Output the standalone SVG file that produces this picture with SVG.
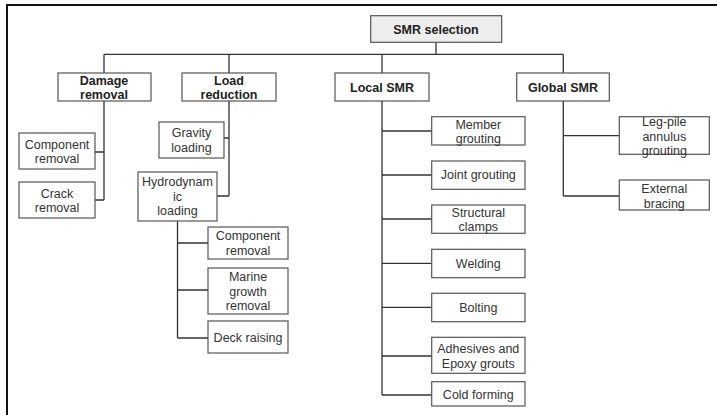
<svg xmlns="http://www.w3.org/2000/svg" width="717" height="415" viewBox="0 0 717 415">
<style>
.b{fill:#fff;stroke:#555;stroke-width:1.2}
.r{fill:#eeeeee;stroke:#555;stroke-width:1.2}
text{font-family:"Liberation Sans",Arial,sans-serif;font-size:12.5px;fill:#333;text-anchor:middle}
.h{font-weight:bold;fill:#222}
.c{fill:none;stroke:#333;stroke-width:1.3}
</style>
<rect x="0" y="0" width="717" height="415" fill="#fff"/>
<path d="M7,415V5H717" fill="none" stroke="#111" stroke-width="2"/>
<g id="connectors" class="c">
<path d="M436,42.3V54.3M104,54.3H563.3M104,54.3V73M229,54.3V73M382,54.3V73M563.3,54.3V73"/>
<path d="M104,101V200M95,152H104M95,200H104"/>
<path d="M229,101V196M224,138H229M217,196H229"/>
<path d="M177.5,221V338M177.5,243H208M177.5,290H208M177.5,338H208"/>
<path d="M382,101V395M382,131H431.7M382,175H431.7M382,219H431.7M382,263.3H431.7M382,307.3H431.7M382,356H431.7M382,395H431.7"/>
<path d="M563.3,101V196M563.3,135.7H619.3M563.3,196H619.3"/>
</g>
<g id="smr"><rect class="r" x="370.7" y="15.7" width="131" height="26.6"/><text class="h" x="436" y="33.5">SMR selection</text></g>
<g id="damage"><rect class="b" x="58" y="73" width="93" height="28"/><text class="h" x="104" y="84.6">Damage</text><text class="h" x="104" y="98.6">removal</text></g>
<g id="load"><rect class="b" x="182" y="73" width="94" height="28"/><text class="h" x="229" y="84.6">Load</text><text class="h" x="229" y="98.6">reduction</text></g>
<g id="local"><rect class="b" x="335" y="73" width="94" height="28"/><text class="h" x="382" y="91.8">Local SMR</text></g>
<g id="global"><rect class="b" x="516.7" y="73" width="92.6" height="28"/><text class="h" x="563" y="91.8">Global SMR</text></g>
<g id="comp1"><rect class="b" x="19" y="133" width="76" height="36"/><text x="57" y="148.6">Component</text><text x="57" y="162.8">removal</text></g>
<g id="crack"><rect class="b" x="19" y="182" width="76" height="36"/><text x="57" y="197.6">Crack</text><text x="57" y="211.8">removal</text></g>
<g id="gravity"><rect class="b" x="159" y="122" width="65" height="36"/><text x="191.5" y="137.3">Gravity</text><text x="191.5" y="151.5">loading</text></g>
<g id="hydro"><rect class="b" x="138" y="172" width="79" height="49"/><text x="177.5" y="186.3">Hydrodynam</text><text x="177.5" y="200.5">ic</text><text x="177.5" y="214.7">loading</text></g>
<g id="comp2"><rect class="b" x="208" y="227" width="80" height="32"/><text x="248" y="240">Component</text><text x="248" y="254.5">removal</text></g>
<g id="marine"><rect class="b" x="208" y="268" width="80" height="46"/><text x="248" y="281">Marine</text><text x="248" y="295.5">growth</text><text x="248" y="310">removal</text></g>
<g id="deck"><rect class="b" x="208" y="321" width="80" height="32"/><text x="248" y="341.5">Deck raising</text></g>
<g id="member"><rect class="b" x="431.7" y="116.7" width="93.3" height="28.3"/><text x="478.3" y="128.6">Member</text><text x="478.3" y="143.2">grouting</text></g>
<g id="joint"><rect class="b" x="431.7" y="161" width="93.3" height="28.3"/><text x="478.3" y="179.3">Joint grouting</text></g>
<g id="clamps"><rect class="b" x="431.7" y="205" width="93.3" height="28.3"/><text x="478.3" y="216.6">Structural</text><text x="478.3" y="231.1">clamps</text></g>
<g id="welding"><rect class="b" x="431.7" y="249.3" width="93.3" height="28.4"/><text x="478.3" y="268">Welding</text></g>
<g id="bolting"><rect class="b" x="431.7" y="293.3" width="93.3" height="28.4"/><text x="478.3" y="312">Bolting</text></g>
<g id="adhesives"><rect class="b" x="431.7" y="337.3" width="93.3" height="36"/><text x="478.3" y="353">Adhesives and</text><text x="478.3" y="367.5">Epoxy grouts</text></g>
<g id="cold"><rect class="b" x="431.7" y="381.7" width="93.3" height="24.3"/><text x="478.3" y="398.5">Cold forming</text></g>
<g id="legpile"><rect class="b" x="619.3" y="116.7" width="90" height="37.6"/><text x="664.3" y="126">Leg-pile</text><text x="664.3" y="140.5">annulus</text><text x="664.3" y="155">grouting</text></g>
<g id="bracing"><rect class="b" x="619.3" y="180" width="90" height="30"/><text x="664.3" y="193.3">External</text><text x="664.3" y="207.7">bracing</text></g>
</svg>
